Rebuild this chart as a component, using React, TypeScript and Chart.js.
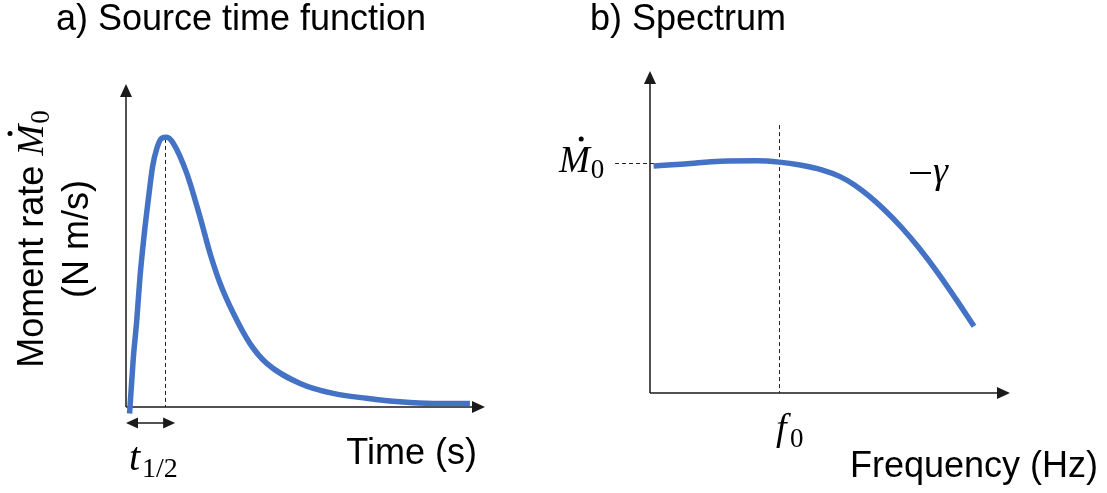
import React, { useEffect, useRef } from 'react';
import { Chart, registerables } from 'chart.js';

Chart.register(...registerables);

// ---- Data (schematic; axes 0..100 arbitrary units) ----
const stfTime = [1.0, 2.0, 3.0, 3.9, 5.0, 6.2, 7.4, 8.6, 9.9, 11.3, 13.2, 16.9, 20.6, 23.4, 26.2, 29.9, 34.5, 39.2, 48.5, 57.7, 67.0, 76.3, 85.6, 95.8];
const stfRate = [-2.0, 14.6, 26.9, 40.3, 52.7, 64.1, 74.4, 80.1, 83.2, 83.5, 81.6, 72.4, 58.9, 47.6, 38.3, 29.0, 19.7, 13.5, 7.3, 4.2, 2.7, 1.6, 1.1, 1.1];
const peakTime = 10.9;
const peakRate = 83.0;

const specFreq = [1.0, 9.6, 19.6, 29.6, 35.9, 41.7, 47.7, 52.8, 56.8, 60.8, 64.8, 69.9, 74.9, 79.9, 84.9, 90.0];
const specAmp = [70.5, 71.1, 72.0, 72.1, 71.7, 70.8, 69.3, 67.2, 64.6, 61.2, 57.2, 51.4, 44.8, 37.4, 29.3, 20.7];
const cornerFreq = 35.8;
const cornerTop = 83.2;
const plateau = 71.4;
const plateauDashEnd = 10;

const titleA = 'a) Source time function';
const titleB = 'b) Spectrum';
const yLabelA1 = 'Moment rate ';
const yLabelA2 = '(N m/s)';
const xLabelA = 'Time (s)';
const xLabelB = 'Frequency (Hz)';

const SANS = '"Liberation Sans", Arial, sans-serif';
const SERIF = '"Liberation Serif", "Times New Roman", serif';
const BLUE = '#4472C4';
const INK = '#1a1a1a';

function arrowHead(ctx: CanvasRenderingContext2D, x: number, y: number, dir: string, len = 13, half = 6) {
  ctx.beginPath();
  ctx.moveTo(x, y);
  if (dir === 'up') {
    ctx.lineTo(x - half, y + len);
    ctx.lineTo(x + half, y + len);
  } else if (dir === 'right') {
    ctx.lineTo(x - len, y - half);
    ctx.lineTo(x - len, y + half);
  } else {
    ctx.lineTo(x + len, y - half);
    ctx.lineTo(x + len, y + half);
  }
  ctx.closePath();
  ctx.fill();
}

function drawAxes(chart: any) {
  const { ctx, chartArea: a } = chart;
  ctx.save();
  ctx.strokeStyle = INK;
  ctx.fillStyle = INK;
  ctx.lineWidth = 1.5;
  ctx.beginPath();
  ctx.moveTo(a.left, a.bottom);
  ctx.lineTo(a.left, a.top + 10);
  ctx.moveTo(a.left, a.bottom);
  ctx.lineTo(a.right - 10, a.bottom);
  ctx.stroke();
  arrowHead(ctx, a.left, a.top, 'up');
  arrowHead(ctx, a.right, a.bottom, 'right');
  ctx.restore();
}

function dashed(ctx: CanvasRenderingContext2D, x1: number, y1: number, x2: number, y2: number) {
  ctx.save();
  ctx.strokeStyle = '#222';
  ctx.lineWidth = 1;
  ctx.setLineDash([4, 3]);
  ctx.beginPath();
  ctx.moveTo(x1, y1);
  ctx.lineTo(x2, y2);
  ctx.stroke();
  ctx.restore();
}

const snap = (v: number) => Math.round(v) + 0.5;

// draws italic M with a dot and an upright subscript 0, starting at x, baseline y
function mDot0(ctx: CanvasRenderingContext2D, x: number, y: number) {
  ctx.font = `italic 37px ${SERIF}`;
  ctx.textAlign = 'left';
  ctx.fillText('M', x, y);
  const mw = ctx.measureText('M').width;
  ctx.beginPath();
  ctx.arc(x + mw * 0.72, y - 33, 2.5, 0, Math.PI * 2);
  ctx.fill();
  ctx.font = `27px ${SERIF}`;
  ctx.fillText('0', x + mw + 1, y + 6);
  return mw + 1 + ctx.measureText('0').width;
}

const leftPlugin = {
  id: 'leftDeco',
  beforeDatasetsDraw(chart: any) {
    const { ctx, chartArea: a, scales } = chart;
    drawAxes(chart);
    const px = snap(scales.x.getPixelForValue(peakTime));
    dashed(ctx, px, scales.y.getPixelForValue(peakRate), px, a.bottom);
  },
  afterDraw(chart: any) {
    const { ctx, chartArea: a, scales } = chart;
    ctx.save();
    ctx.fillStyle = '#000';
    ctx.textBaseline = 'alphabetic';
    // title
    ctx.font = `36px ${SANS}`;
    ctx.textAlign = 'center';
    ctx.fillText(titleA, 241, 30);
    // x label
    ctx.textAlign = 'right';
    ctx.fillText(xLabelA, 477, 464);
    // t1/2 double arrow
    const px = scales.x.getPixelForValue(peakTime);
    const ay = a.bottom + 16;
    ctx.strokeStyle = INK;
    ctx.fillStyle = INK;
    ctx.lineWidth = 1.5;
    ctx.beginPath();
    ctx.moveTo(a.left + 8, ay);
    ctx.lineTo(px + 2, ay);
    ctx.stroke();
    arrowHead(ctx, a.left, ay, 'left', 12, 5.5);
    arrowHead(ctx, px + 10, ay, 'right', 12, 5.5);
    ctx.fillStyle = '#000';
    ctx.textAlign = 'left';
    ctx.font = `italic 40px ${SERIF}`;
    ctx.fillText('t', 129, 470);
    ctx.font = `28px ${SERIF}`;
    ctx.fillText('1/2', 142, 477);
    // rotated y label
    ctx.save();
    ctx.translate(43, 239);
    ctx.rotate(-Math.PI / 2);
    ctx.font = `36px ${SANS}`;
    const w1 = ctx.measureText(yLabelA1).width;
    ctx.font = `italic 37px ${SERIF}`;
    const wm = ctx.measureText('M').width;
    ctx.font = `27px ${SERIF}`;
    const w0 = ctx.measureText('0').width;
    const total = w1 + wm + 1 + w0;
    const sx = -total / 2;
    ctx.font = `36px ${SANS}`;
    ctx.textAlign = 'left';
    ctx.fillText(yLabelA1, sx, 0);
    mDot0(ctx, sx + w1, 0);
    ctx.font = `36px ${SANS}`;
    ctx.textAlign = 'center';
    ctx.fillText(yLabelA2, 0, 45);
    ctx.restore();
    ctx.restore();
  },
};

const rightPlugin = {
  id: 'rightDeco',
  beforeDatasetsDraw(chart: any) {
    const { ctx, chartArea: a, scales } = chart;
    drawAxes(chart);
    const fx = snap(scales.x.getPixelForValue(cornerFreq));
    dashed(ctx, fx, scales.y.getPixelForValue(cornerTop), fx, a.bottom);
    const py = snap(scales.y.getPixelForValue(plateau));
    dashed(ctx, 75, py, scales.x.getPixelForValue(plateauDashEnd), py);
  },
  afterDraw(chart: any) {
    const { ctx } = chart;
    ctx.save();
    ctx.fillStyle = '#000';
    ctx.textBaseline = 'alphabetic';
    ctx.font = `36px ${SANS}`;
    ctx.textAlign = 'left';
    ctx.fillText(titleB, 50, 30);
    ctx.fillText(xLabelB, 310, 477);
    // M dot 0
    mDot0(ctx, 19, 172);
    // f0
    ctx.font = `italic 38px ${SERIF}`;
    ctx.fillText('f', 236, 440);
    ctx.font = `27px ${SERIF}`;
    ctx.fillText('0', 250, 447);
    // -gamma
    ctx.fillRect(370, 172, 21, 2);
    ctx.font = `italic 38px ${SERIF}`;
    ctx.fillText('\u03b3', 393, 183);
    ctx.restore();
  },
};

function makeChart(canvas: HTMLCanvasElement, xs: number[], ys: number[], pad: any, plugin: any) {
  return new Chart(canvas, {
    type: 'line',
    data: {
      datasets: [
        {
          data: xs.map((x, i) => ({ x, y: ys[i] })),
          borderColor: BLUE,
          borderWidth: 5.5,
          pointRadius: 0,
          cubicInterpolationMode: 'monotone',
          fill: false,
          clip: false,
        } as any,
      ],
    },
    options: {
      animation: false,
      responsive: false,
      events: [],
      layout: { padding: pad },
      plugins: { legend: { display: false }, tooltip: { enabled: false }, title: { display: false } },
      scales: {
        x: { type: 'linear', min: 0, max: 100, display: false },
        y: { type: 'linear', min: 0, max: 100, display: false },
      },
    },
    plugins: [plugin],
  });
}

export default function App() {
  const leftRef = useRef<HTMLCanvasElement>(null);
  const rightRef = useRef<HTMLCanvasElement>(null);

  useEffect(() => {
    const c1 = makeChart(leftRef.current!, stfTime, stfRate, { left: 126, right: 55, top: 84, bottom: 86 }, leftPlugin);
    const c2 = makeChart(rightRef.current!, specFreq, specAmp, { left: 110, right: 97, top: 71, bottom: 100 }, rightPlugin);
    return () => {
      c1.destroy();
      c2.destroy();
    };
  }, []);

  return (
    <div style={{ position: 'absolute', left: 0, top: 0, width: 1107, height: 493, display: 'flex', background: '#fff' }}>
      <canvas ref={leftRef} width={540} height={493} style={{ display: 'block', width: 540, height: 493 }} />
      <canvas ref={rightRef} width={567} height={493} style={{ display: 'block', width: 567, height: 493 }} />
    </div>
  );
}
